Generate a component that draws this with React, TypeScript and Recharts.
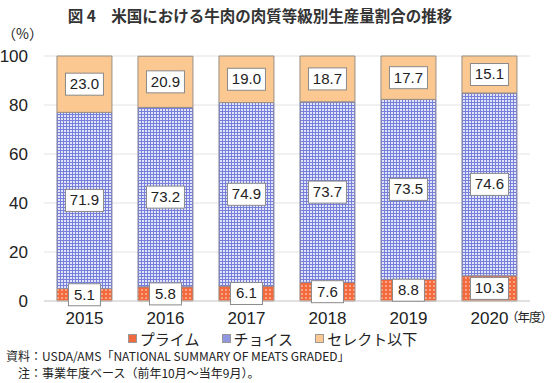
import React from "react";
import { BarChart, Bar, XAxis, YAxis, CartesianGrid, LabelList } from "recharts";

const years = ["2015", "2016", "2017", "2018", "2019", "2020"];
const prime = [5.1, 5.8, 6.1, 7.6, 8.8, 10.3];
const choice = [71.9, 73.2, 74.9, 73.7, 73.5, 74.6];
const select = [23.0, 20.9, 19.0, 18.7, 17.7, 15.1];
const yTicks = [0, 20, 40, 60, 80, 100];

const FONT = '"Liberation Sans", "Noto Sans CJK JP", sans-serif';
const JP = '"Noto Sans CJK JP", sans-serif';

const data = years.map((year, i) => ({
  year,
  prime: prime[i],
  choice: choice[i],
  select: select[i],
}));

function ValueBox(props: any) {
  const { x, y, width, height, value } = props;
  const text = Number(value).toFixed(1);
  const w = text.length > 3 ? 38 : 32;
  const h = 22;
  const cx = x + width / 2;
  const cy = y + height / 2;
  return (
    <g>
      <rect x={cx - w / 2} y={cy - h / 2} width={w} height={h} fill="#fff" stroke="#8a8a8a" />
      <text x={cx} y={cy + 1} textAnchor="middle" dominantBaseline="middle" fontSize={15} fill="#222" fontFamily={FONT}>
        {text}
      </text>
    </g>
  );
}

const legendItems = [
  { name: "プライム", color: "#f06a40" },
  { name: "チョイス", color: "#8f98de" },
  { name: "セレクト以下", color: "#fbc891" },
];

export default function App() {
  return (
    <div style={{ position: "absolute", left: 0, top: 0, width: 558, height: 383, background: "#fff", fontFamily: JP, color: "#222" }}>
      <div style={{ position: "absolute", left: 0, width: 520, top: 4, textAlign: "center", fontSize: 15.5, fontWeight: "bold", whiteSpace: "pre", color: "#333" }}>
        {"図 4　米国における牛肉の肉質等級別生産量割合の推移"}
      </div>
      <div style={{ position: "absolute", left: 2, top: 23, fontSize: 14 }}>（%）</div>
      <BarChart
        width={558}
        height={383}
        data={data}
        margin={{ top: 56, right: 28, bottom: 52, left: 4 }}
        barCategoryGap="16%"
      >
        <defs>
          <pattern id="pChoice" width="3" height="3" patternUnits="userSpaceOnUse">
            <rect width="3" height="3" fill="#e2e4fa" />
            <rect width="3" height="1" fill="#7680da" />
            <rect width="1" height="3" fill="#7680da" />
          </pattern>
          <pattern id="pPrime" width="4" height="4" patternUnits="userSpaceOnUse">
            <rect width="4" height="4" fill="#f26a3e" />
            <rect x="1" y="1" width="2" height="2" fill="#f9a584" />
          </pattern>
        </defs>
        <CartesianGrid vertical={false} stroke="#e2e2e2" />
        <XAxis
          dataKey="year"
          axisLine={{ stroke: "#d0d0d0" }}
          tickLine={false}
          tick={{ fontSize: 17, fill: "#222", fontFamily: FONT }}
          tickMargin={5}
        />
        <YAxis
          domain={[0, 100]}
          ticks={yTicks}
          width={40}
          axisLine={false}
          tickLine={false}
          tickMargin={10}
          tick={{ fontSize: 17, fill: "#222", fontFamily: FONT }}
        />
        <Bar dataKey="prime" stackId="a" fill="url(#pPrime)" stroke="#9a8a80" isAnimationActive={false}>
          <LabelList dataKey="prime" content={ValueBox} />
        </Bar>
        <Bar dataKey="choice" stackId="a" fill="url(#pChoice)" stroke="#8a8aa0" isAnimationActive={false}>
          <LabelList dataKey="choice" content={ValueBox} />
        </Bar>
        <Bar dataKey="select" stackId="a" fill="#fbc891" stroke="#9a8f85" isAnimationActive={false}>
          <LabelList dataKey="select" content={ValueBox} />
        </Bar>
      </BarChart>
      <div style={{ position: "absolute", left: 506, top: 311, fontSize: 12.5, letterSpacing: -1, lineHeight: 1, whiteSpace: "nowrap" }}>（年度）</div>
      <div style={{ position: "absolute", left: 0, width: 545, top: 331, lineHeight: 1, display: "flex", justifyContent: "center", fontSize: 15 }}>
        {legendItems.map((item, i) => (
          <div key={item.name} style={{ display: "flex", alignItems: "center", marginLeft: i === 0 ? 0 : 22 }}>
            <span style={{ display: "inline-block", width: 7, height: 7, background: item.color, border: "1px solid #999", marginRight: 3 }} />
            <span>{item.name}</span>
          </div>
        ))}
      </div>
      <div style={{ position: "absolute", left: 6, top: 347, fontSize: 12, whiteSpace: "pre" }}>
        {"資料：USDA/AMS「NATIONAL SUMMARY OF MEATS GRADED」"}
      </div>
      <div style={{ position: "absolute", left: 18, top: 364, fontSize: 12, whiteSpace: "pre" }}>
        {"注：事業年度ベース（前年10月～当年9月）。"}
      </div>
    </div>
  );
}
